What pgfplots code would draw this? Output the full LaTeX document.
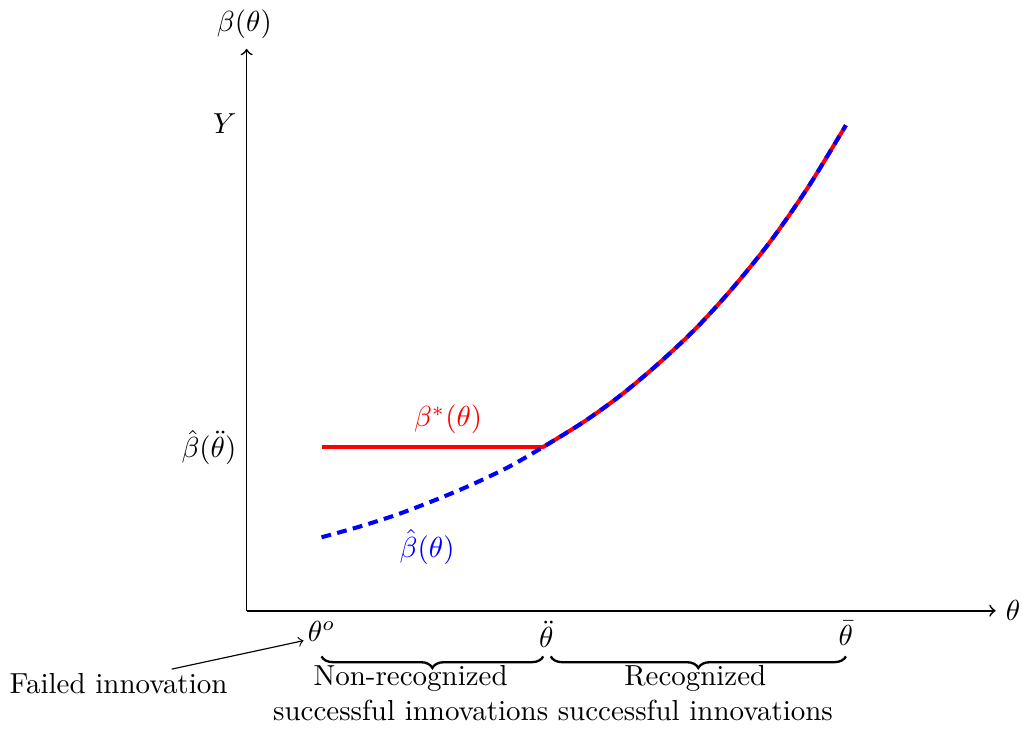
\documentclass[border=0pt]{standalone}
\usepackage{pgfplots}
\pgfplotsset{compat=1.18}
\usetikzlibrary{decorations.pathreplacing}
\begin{document}
\begin{tikzpicture}
\begin{axis}[
  x=25.86pt, y=25.86pt,
  xmin=0, xmax=10, ymin=0, ymax=7.5,
  axis lines=left,
  axis line style={semithick,->},
  xtick={1,4,8},
  xticklabels={$\theta^o$,$\ddot\theta$,$\bar\theta$},
  ytick={2.18,6.5},
  yticklabels={$\hat\beta(\ddot\theta)$,$Y$},
  major tick length=0pt,
  clip=false,
]
\addplot[red, line width=1.4pt] coordinates {(1,2.18) (3.95,2.18)};
\addplot[red, line width=1.4pt, smooth] coordinates {
(3.95,2.18) (4.5,2.52) (5,2.88) (5.5,3.30) (6,3.77) (6.5,4.32)
(7,4.94) (7.5,5.66) (8,6.48)};
\addplot[blue, line width=1.4pt, dash pattern=on 3.4pt off 2.2pt, smooth] coordinates {
(1,0.98) (1.5,1.12) (2,1.28) (2.5,1.47) (3,1.68) (3.5,1.92) (3.95,2.18)
(4.5,2.52) (5,2.88) (5.5,3.30) (6,3.77) (6.5,4.32)
(7,4.94) (7.5,5.66) (8,6.48)};
\node[red] at (axis cs:2.69,2.55) {$\beta^{*}(\theta)$};
\node[blue] at (axis cs:2.41,0.85) {$\hat\beta(\theta)$};
\node[anchor=west] at (axis cs:10,0) {$\theta$};
\node[anchor=south] at (axis cs:-0.03,7.5) {$\beta(\theta)$};
\draw[thick, decorate, decoration={brace,mirror,amplitude=4pt}]
  (axis cs:1.0,-0.61) -- (axis cs:3.96,-0.61);
\draw[thick, decorate, decoration={brace,mirror,amplitude=4pt}]
  (axis cs:4.06,-0.61) -- (axis cs:8.0,-0.61);
\node[anchor=north, align=center] at (axis cs:2.19,-0.6) {Non-recognized\\successful innovations};
\node[anchor=north, align=center] at (axis cs:5.99,-0.6) {Recognized\\successful innovations};
\node at (axis cs:-1.71,-0.97) {Failed innovation};
\draw[->] (axis cs:-1.0,-0.78) -- (axis cs:0.76,-0.40);
\end{axis}
\end{tikzpicture}
\end{document}
